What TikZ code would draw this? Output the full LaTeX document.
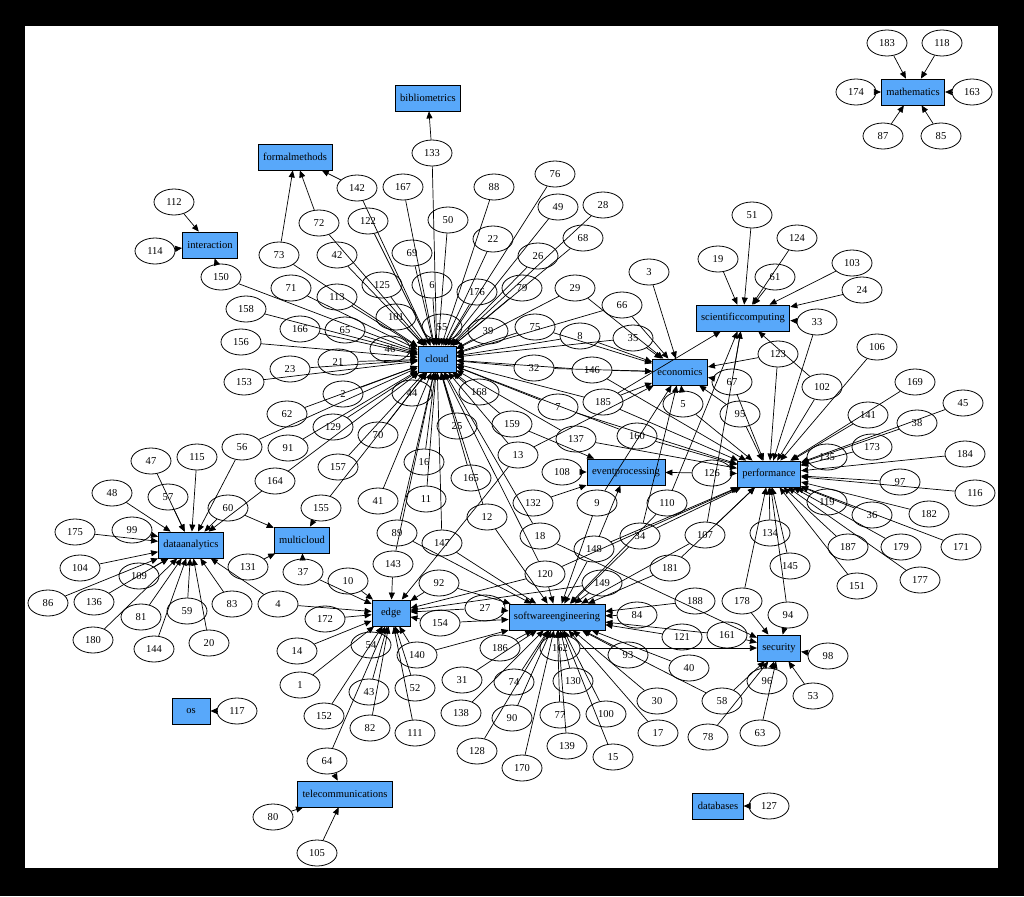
\documentclass[tikz,border=0pt]{standalone}
\usepackage{fontspec}
\setmainfont{Liberation Serif}
\usetikzlibrary{arrows.meta,shapes.geometric}
\definecolor{catblue}{RGB}{88,168,250}
\begin{document}
\begin{tikzpicture}[x=0.02cm,y=-0.02cm,
  num/.style={draw,ellipse,line width=0.45pt,minimum width=0.8cm,minimum height=0.52cm,inner sep=0pt,font=\fontsize{6}{7}\selectfont},
  cat/.style={draw,rectangle,line width=0.45pt,fill=catblue,minimum height=0.52cm,minimum width=0.76cm,inner xsep=0.1cm,inner ysep=0pt,font=\fontsize{6}{7}\selectfont},
  e/.style={-{Triangle[length=4pt,width=3.4pt]},line width=0.4pt}]
\useasboundingbox (0,0) rectangle (1024,896);
\fill[black] (0,0) rectangle (1024,896);
\fill[white] (25,26) rectangle (998,868);
% category nodes
\node[cat] (cBib) at (428,98) {bibliometrics};
\node[cat] (cFormal) at (295,157) {formalmethods};
\node[cat] (cInter) at (210,245) {interaction};
\node[cat] (cMath) at (913,92) {mathematics};
\node[cat] (cSci) at (743,318) {scientificcomputing};
\node[cat] (cCloud) at (437,359) {cloud};
\node[cat] (cEcon) at (680,372) {economics};
\node[cat] (cPerf) at (769,474) {performance};
\node[cat] (cEvent) at (626,472) {eventprocessing};
\node[cat] (cData) at (191,545) {dataanalytics};
\node[cat] (cMulti) at (302,540) {multicloud};
\node[cat] (cEdge) at (391,613) {edge};
\node[cat] (cSoft) at (557,617) {softwareengineering};
\node[cat] (cSec) at (779,648) {security};
\node[cat] (cOs) at (191,711) {os};
\node[cat] (cTele) at (345,794) {telecommunications};
\node[cat] (cDb) at (718,806) {databases};
% numbered nodes
\foreach \n/\x/\y in {112/174/202,114/155/251,150/221/277,158/246/309,156/241/342,153/244/382,
 73/279/255,72/319/223,142/357/188,167/403/187,133/432/153,122/368/221,42/337/255,69/412/253,
 50/448/220,88/494/187,22/493/239,76/555/174,49/558/207,28/603/205,68/583/238,26/538/256,
 79/522/288,176/477/292,6/432/285,125/382/285,113/337/297,71/291/288,166/300/329,65/345/330,
 101/396/317,55/442/327,39/488/331,46/390/349,21/338/362,23/290/369,2/343/394,62/287/414,
 91/288/448,129/333/427,70/378/435,164/275/481,157/338/467,44/412/393,25/457/426,16/424/462,
 41/378/501,11/426/499,165/471/478,155/321/508,168/479/392,159/512/424,13/518/455,12/487/517,
 89/397/533,147/442/543,143/393/564,92/439/583,10/348/581,37/303/572,29/575/288,66/622/305,
 3/649/272,75/535/327,8/580/336,35/633/338,32/534/368,146/592/370,7/558/407,185/603/402,
 5/683/404,137/576/439,160/637/436,108/562/472,132/533/503,9/597/503,110/667/503,18/540/536,
 148/594/549,34/640/536,107/705/535,120/545/574,149/602/583,181/670/568,126/712/473,67/732/382,
 95/740/414,19/718/259,51/752/215,124/797/238,61/775/277,103/852/263,24/862/290,33/817/322,
 123/778/354,102/822/387,106/877/347,169/915/382,45/963/403,141/868/415,38/917/423,173/872/447,
 135/827/457,184/965/454,97/900/482,116/975/493,119/827/502,36/872/515,182/929/514,187/848/547,
 179/901/547,171/961/547,151/857/586,177/920/580,134/770/533,145/790/566,178/742/601,94/788/615,
 98/828/656,53/813/696,96/767/681,63/760/733,58/722/701,78/708/737,161/727/635,121/682/637,
 188/695/601,84/637/615,40/689/668,93/628/655,30/657/701,17/658/733,100/606/714,15/613/757,
 130/573/681,77/560/715,139/567/746,162/560/648,186/500/648,74/514/682,31/462/680,138/461/713,
 90/512/718,128/477/751,170/522/768,27/485/608,154/440/623,140/417/655,52/415/688,111/415/733,
 82/370/728,43/369/692,54/371/645,14/297/651,1/300/685,152/324/716,172/325/619,4/278/604,
 64/327/761,80/273/817,105/317/853,117/237/711,47/151/461,115/197/457,56/242/447,48/112/493,
 57/168/497,60/228/508,175/75/532,99/132/530,104/80/568,109/139/576,131/248/567,86/48/603,
 136/94/602,81/141/617,59/187/611,83/232/604,180/93/640,144/154/649,20/209/643,183/887/43,
 118/942/43,174/856/92,163/972/92,87/883/136,85/941/136,127/769/806}
  \node[num] (n\n) at (\x,\y) {\n};
% edges
\foreach \s in {150,158,156,153,73,72,142,122,167,133,42,69,50,88,22,76,49,28,68,26,79,176,6,125,
 113,71,166,65,101,55,39,46,21,23,2,62,91,129,70,164,157,44,25,16,41,11,165,155,168,159,13,12,
 89,147,143,29,75,8,32,7,66,35,146,160,137,18,120,56,185}
  \draw[e] (n\s) -- (cCloud);
\foreach \s in {73,72,142} \draw[e] (n\s) -- (cFormal);
\draw[e] (n133) -- (cBib);
\foreach \s in {112,114,150} \draw[e] (n\s) -- (cInter);
\foreach \s in {183,118,174,163,87,85} \draw[e] (n\s) -- (cMath);
\foreach \s in {19,51,124,61,103,24,33,102,67,110,107,185} \draw[e] (n\s) -- (cSci);
\foreach \s in {3,66,29,75,8,35,32,146,185,5,67,95,123,13,9,34} \draw[e] (n\s) -- (cEcon);
\foreach \s in {106,169,45,141,38,173,135,184,97,116,119,36,182,187,179,171,151,177,134,145,94,
 178,33,123,102,67,95,5,126,107,181,148,120,160,137,146,7,185,34}
  \draw[e] (n\s) -- (cPerf);
\foreach \s in {108,132,159,126,148} \draw[e] (n\s) -- (cEvent);
\foreach \s in {47,115,56,48,57,60,164,175,99,104,109,86,136,81,59,83,180,144,20,4}
  \draw[e] (n\s) -- (cData);
\foreach \s in {60,155,131,37} \draw[e] (n\s) -- (cMulti);
\foreach \s in {10,37,4,172,14,1,54,152,43,82,64,111,52,140,154,27,92,143,13,149,120}
  \draw[e] (n\s) -- (cEdge);
\foreach \s in {27,154,140,186,31,74,138,90,128,170,162,130,77,139,100,15,17,30,93,40,58,121,161,
 84,188,92,89,147,12,9,110,34,107,181,149,148,120}
  \draw[e] (n\s) -- (cSoft);
\foreach \s in {178,94,98,53,96,63,58,78,161,162,18} \draw[e] (n\s) -- (cSec);
\foreach \s in {64,80,105} \draw[e] (n\s) -- (cTele);
\draw[e] (n117) -- (cOs);
\draw[e] (n127) -- (cDb);
\end{tikzpicture}
\end{document}
